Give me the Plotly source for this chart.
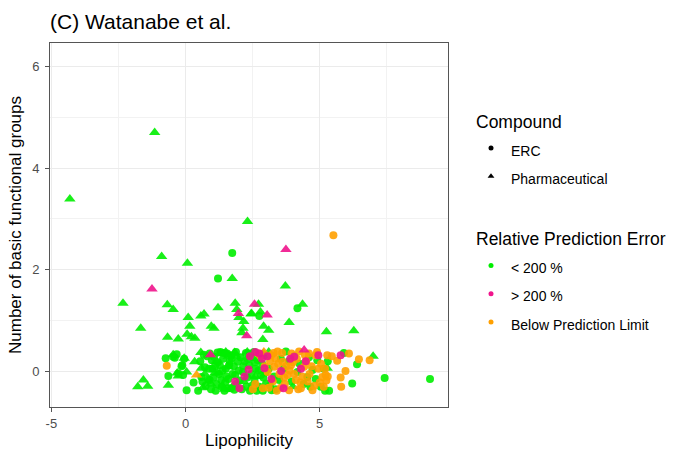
import plotly.graph_objects as go

# ---------------- data (Lipophilicity, jittered count of basic groups) ----------------
erc_green = [(-0.74,0.26),(-0.46,0.29),(-0.40,0.27),(-0.33,0.34),(-0.64,-0.09),(-0.12,0.12),(-0.05,0.25),
    (-0.15,0.10),(-0.09,-0.07),(-0.27,-0.04),(0.04,-0.37),(0.47,-0.38),(0.59,-0.11),(0.63,-0.20),(0.72,0.08),
    (0.84,-0.16),(0.90,0.35),(0.90,-0.17),(0.98,0.22),(0.80,0.30),(0.55,0.20),(0.30,-0.22),(0.95,-0.35),
    (0.75,-0.28),(1.06,0.29),(1.19,0.37),(1.33,-0.17),(1.58,-0.33),(1.70,-0.33),(1.70,0.32),(1.85,-0.07),
    (1.95,0.19),(1.10,0.10),(1.25,-0.05),(1.40,0.25),(1.50,0.05),(1.60,-0.15),(1.45,-0.38),(1.15,-0.25),
    (1.30,0.38),(1.55,0.35),(1.80,0.10),(1.90,-0.25),(1.20,0.18),(1.65,0.20),(1.75,-0.05),(1.35,-0.30),
    (1.05,-0.12),(1.88,0.38),(1.48,-0.22),(2.14,-0.01),(2.38,0.35),(2.38,0.12),(2.26,-0.30),(2.57,-0.17),
    (2.69,0.22),(2.81,-0.07),(3.00,-0.24),(2.05,0.28),(2.20,0.20),(2.30,-0.12),(2.45,-0.05),(2.50,0.28),
    (2.62,0.05),(2.75,-0.30),(2.85,0.15),(2.95,0.32),(2.10,-0.35),(2.40,-0.38),(2.65,-0.38),(2.90,-0.12),
    (2.15,0.10),(2.55,0.38),(2.25,0.36),(3.21,-0.37),(3.49,-0.17),(3.74,0.39),(4.17,-0.01),(4.54,-0.11),
    (4.73,0.03),(4.91,0.22),(5.04,-0.30),(5.35,-0.38),(3.10,0.05),(3.30,-0.10),(3.55,0.25),(3.65,0.05),
    (3.95,-0.20),(4.25,0.15),(4.40,-0.25),(4.65,-0.30),(4.85,-0.15),(5.15,0.05),(4.05,0.30),(3.85,0.20),
    (3.35,-0.35),(5.30,0.20),(6.21,-0.24),(6.39,0.14),(7.42,-0.13),(9.11,-0.15),(5.90,0.36),
    (1.00,0.05),(1.12,-0.38),(1.28,0.12),(1.38,0.02),(1.52,-0.10),(1.62,0.12),(1.72,0.26),(1.82,-0.36),
    (1.98,0.02),(2.02,-0.18),(2.32,0.24),(2.48,-0.28),(2.58,0.18),(2.72,0.02),(2.98,-0.02),(1.42,0.36),
    (0.68,0.33),(0.88,0.05),(2.88,-0.38),(3.15,-0.28),(4.60,0.28),(5.20,-0.38),
    (1.74,2.33),(1.21,1.83),(4.17,1.24),(2.75,1.09)]
erc_magenta = [(2.01,-0.33),(2.35,0.04),(2.75,0.35),(2.94,0.06),(3.56,0.01),(3.65,-0.33),(4.05,0.29),
    (4.48,0.20),(4.95,0.32),(5.78,0.32),(2.20,-0.10),(2.85,0.25),(3.05,0.30),(3.20,-0.15),(2.60,0.38),
    (3.90,0.25),(4.30,0.05),(2.40,0.30),(1.85,-0.20)]
erc_orange = [(-0.70,0.11),(2.51,-0.35),(2.88,-0.33),(3.06,-0.01),(3.19,0.32),(3.31,0.09),(3.43,0.39),
    (3.62,0.19),(3.80,-0.07),(3.86,-0.37),(3.93,0.12),(4.11,-0.17),(4.23,0.39),(4.30,-0.33),(4.42,0.09),
    (4.60,0.35),(4.73,-0.37),(4.85,0.32),(5.10,-0.11),(5.22,-0.07),(5.28,0.32),(5.65,0.21),(5.96,0.01),
    (5.78,-0.12),(5.80,-0.30),(6.09,0.35),(6.46,0.24),(6.86,0.22),(5.51,2.68),(3.35,0.25),(3.50,-0.05),
    (3.70,-0.25),(3.95,0.35),(4.05,-0.05),(4.15,0.25),(4.35,-0.10),(4.50,0.20),(4.55,-0.20),(4.70,0.10),
    (4.95,0.05),(5.00,-0.22),(5.25,-0.18),(5.20,0.05),(3.25,-0.20),(3.55,-0.32),(3.15,0.20),(2.95,0.10),
    (2.70,0.35),(3.60,0.36),(4.80,-0.28),(5.45,0.30),(4.20,-0.35),(3.75,0.10),(2.60,-0.25),(2.80,0.30),
    (5.15,-0.30),(4.90,0.38),(3.40,-0.38),(3.45,0.15),(3.68,-0.12),(3.88,0.02),(4.00,0.18),(4.28,-0.22),
    (4.45,0.32),(4.62,-0.05),(5.05,0.15),(5.30,-0.10),(3.28,0.36),(3.10,-0.32)]
pharm_green = [(-4.31,3.39),(-1.15,4.70),(-0.89,2.26),(0.07,2.13),(1.74,1.83),(2.31,2.95),(3.72,1.68),
    (-2.33,1.34),(-0.68,1.31),(-0.46,1.22),(1.85,1.34),(1.91,1.22),(2.72,1.32),(4.36,1.32),(2.46,1.14),
    (2.79,1.17),(0.10,1.06),(-1.67,0.85),(0.16,0.89),(0.06,0.73),(-0.67,0.67),(-0.27,0.64),(0.22,0.68),
    (0.35,0.65),(0.57,1.09),(0.69,1.13),(1.21,1.25),(1.99,1.06),(2.44,1.13),(0.96,0.89),(1.06,0.85),
    (2.17,0.98),(2.14,0.85),(2.10,0.76),(2.91,0.89),(3.10,0.81),(2.88,0.63),(3.86,0.96),(5.25,0.78),
    (6.27,0.80),(-1.57,-0.17),(-1.78,-0.30),(-1.41,-0.29),(-0.64,-0.27),(-0.46,0.33),(-0.31,-0.03),
    (-0.27,-0.09),(0.04,-0.01),(0.34,0.19),(0.57,0.37),(0.59,0.06),(0.65,-0.32),(1.09,-0.03),(1.20,-0.03),
    (1.37,-0.29),(1.58,0.09),(1.83,0.37),(2.17,-0.20),(5.28,0.06),(6.99,0.30),(1.30,0.35),(1.50,0.38),
    (1.90,0.30),(2.30,0.38),(1.45,-0.35),(1.75,-0.30),(2.60,-0.10),(1.60,0.30),(0.95,-0.25),(1.15,0.20),
    (2.90,0.35),(3.10,0.38),(4.00,-0.30),(-0.05,0.26),(0.72,-0.05)]
pharm_magenta = [(-1.25,1.62),(3.74,2.40),(2.57,1.32),(1.97,1.14),(3.04,1.11),(2.28,0.70),(0.93,0.33),
    (4.42,0.42)]
pharm_orange = [(0.41,-0.07),(2.92,0.38)]

GREEN, MAGENTA, ORANGE = "#00EE00", "#F0148C", "#FFA000"

fig = go.Figure()

def add(points, symbol, color, size):
    fig.add_trace(go.Scatter(
        x=[p[0] for p in points], y=[p[1] for p in points], mode="markers",
        marker=dict(symbol=symbol, color=color, size=size, opacity=0.9, line=dict(width=0)),
        showlegend=False, hoverinfo="x+y"))

add(erc_green, "circle", GREEN, 8)
add(pharm_green, "triangle-up", GREEN, 10)
add(erc_orange, "circle", ORANGE, 8)
add(pharm_orange, "triangle-up", ORANGE, 10)
add(erc_magenta, "circle", MAGENTA, 8)
add(pharm_magenta, "triangle-up", MAGENTA, 10)

def leg(name, symbol, color, size, group, title):
    fig.add_trace(go.Scatter(
        x=[None], y=[None], mode="markers", name=f'<span style="font-size:14px">{name}</span>',
        marker=dict(symbol=symbol, color=color, size=size),
        legendgroup=group, legendgrouptitle=dict(text=title, font=dict(size=17.5, color="black"))))

leg("ERC", "circle", "black", 5, "cmp", "Compound")
leg("Pharmaceutical", "triangle-up", "black", 6, "cmp", "Compound")
leg("&lt; 200 %", "circle", GREEN, 5, "err", "Relative Prediction Error")
leg("&gt; 200 %", "circle", MAGENTA, 5, "err", "Relative Prediction Error")
leg("Below Prediction Limit", "circle", ORANGE, 5, "err", "Relative Prediction Error")

axis_common = dict(showline=True, mirror=True, linecolor="#555555", linewidth=1,
                   gridcolor="#EBEBEB", gridwidth=1, zeroline=False, automargin=False,
                   ticks="outside", ticklen=4, tickcolor="#555555",
                   tickfont=dict(size=13, color="#4D4D4D"))

fig.update_layout(
    width=673, height=455,
    margin=dict(l=50, r=225, t=43, b=48),
    paper_bgcolor="white", plot_bgcolor="white",
    font=dict(family="Liberation Sans, Arial, sans-serif", color="black"),
    title=dict(text="(C) Watanabe et al.", x=0, xref="paper", xanchor="left",
               y=1 - 22/455, yref="container", yanchor="middle",
               font=dict(size=21, color="black")),
    xaxis=dict(range=[-5.05, 9.78], tickvals=[-5, 0, 5], ticktext=["-5", "0", "5"], ticklabelstandoff=0,
               minor=dict(tickvals=[-2.5, 2.5, 7.5], showgrid=True, gridcolor="#F2F2F2", gridwidth=1, ticks=""),
               title=dict(text="Lipophilicity", font=dict(size=17), standoff=4), **axis_common),
    yaxis=dict(range=[-0.70, 6.46], tickvals=[0, 2, 4, 6], ticklabelstandoff=3,
               minor=dict(tickvals=[1, 3, 5], showgrid=True, gridcolor="#F2F2F2", gridwidth=1, ticks=""),
               title=dict(text="Number of basic functional groups", font=dict(size=17), standoff=6),
               **axis_common),
    legend=dict(xref="container", yref="container", x=471/673, xanchor="left",
                y=1 - 103/455, yanchor="top", traceorder="grouped", maxheight=1,
                font=dict(size=19.5), tracegroupgap=35, itemclick=False, bgcolor="rgba(0,0,0,0)"),
)

fig.write_html("out.html")
